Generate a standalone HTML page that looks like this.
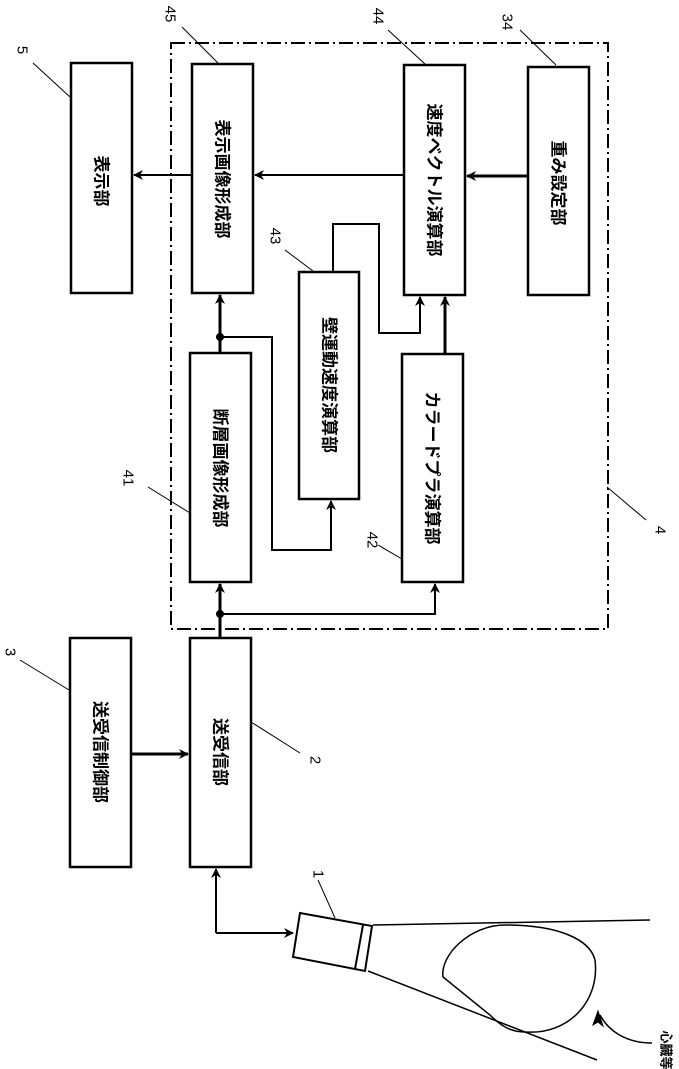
<!DOCTYPE html>
<html><head><meta charset="utf-8"><style>
html,body{margin:0;padding:0;background:#fff}
svg{display:block}
text{font-family:"Liberation Sans","Noto Sans CJK JP",sans-serif;fill:#000}
</style></head><body>
<svg width="679" height="1069" viewBox="0 0 679 1069" xmlns="http://www.w3.org/2000/svg">
<defs>
<marker id="a" markerWidth="10" markerHeight="10" refX="9" refY="5" orient="auto" markerUnits="userSpaceOnUse">
<path d="M0,0 L10,5 L0,10 L3,5 z" fill="#000"/></marker>
</defs>
<g fill="none" stroke="#000">
<rect x="171" y="43" width="437" height="586" stroke-width="2" stroke-dasharray="14,4,2,4"/>
<g stroke-width="2.5">
<rect x="71" y="63" width="61" height="230"/>
<rect x="192" y="64" width="61" height="229"/>
<rect x="404" y="65" width="61" height="230"/>
<rect x="528" y="67" width="61" height="228"/>
<rect x="299" y="272" width="60" height="227"/>
<rect x="190" y="353" width="61" height="229"/>
<rect x="402" y="354" width="61" height="228"/>
<rect x="70" y="638" width="61" height="229"/>
<rect x="190" y="638" width="61" height="229"/>
</g>
<g stroke-width="2">
<line x1="192" y1="175" x2="134" y2="175" marker-end="url(#a)"/>
<line x1="404" y1="175" x2="255" y2="175" marker-end="url(#a)"/>
<line x1="528" y1="176" x2="467" y2="176" stroke-width="3" marker-end="url(#a)"/>
<line x1="220" y1="353" x2="220" y2="295" stroke-width="3" marker-end="url(#a)"/>
<polyline points="220,337 272,337 272,550 331,550 331,501" marker-end="url(#a)"/>
<polyline points="333,272 333,224 379,224 379,333 420,333 420,297" marker-end="url(#a)"/>
<line x1="445" y1="354" x2="445" y2="297" stroke-width="3" marker-end="url(#a)"/>
<line x1="220" y1="638" x2="220" y2="584" stroke-width="3" marker-end="url(#a)"/>
<polyline points="220,614 435,614 435,584" marker-end="url(#a)"/>
<line x1="131" y1="754" x2="188" y2="754" stroke-width="3" marker-end="url(#a)"/>
<polyline points="216,933 216,869" marker-end="url(#a)"/>
<polyline points="216,933 293,933" marker-end="url(#a)"/>
</g>
<g stroke-width="1">
<line x1="33" y1="63" x2="70" y2="97"/>
<line x1="182" y1="27" x2="218" y2="63"/>
<line x1="388" y1="30" x2="425" y2="64"/>
<line x1="520" y1="30" x2="556" y2="65"/>
<line x1="285" y1="250" x2="313" y2="271"/>
<line x1="148" y1="487" x2="190" y2="513"/>
<line x1="378" y1="545" x2="402" y2="559"/>
<line x1="607" y1="487" x2="646" y2="520"/>
<line x1="20" y1="660" x2="69" y2="690"/>
<line x1="251" y1="722" x2="300" y2="753"/>
<line x1="318" y1="880" x2="335" y2="918"/>
</g>
<g stroke-width="2">
<polygon points="300,913 372,926 365,971 293,957"/>
<line x1="363" y1="925" x2="355" y2="969"/>
</g>
<g stroke-width="1.5">
<line x1="373" y1="925" x2="650" y2="920"/>
<line x1="368" y1="971" x2="597" y2="1060"/>
<path d="M443,977 C440,955 470,925 505,925 C560,925 590,940 595,960 C600,1000 570,1035 525,1032 C510,1032 500,1025 490,1015 Z"/>
<path d="M652,1043 C625,1043 608,1030 600,1015" />
</g>
<path d="M598,1011 l-5,14 l5,-3 l5,4 z" fill="#000"/>
</g>
<circle cx="220" cy="337" r="4"/>
<circle cx="220" cy="614" r="4"/>
<g font-size="17" font-weight="bold" text-anchor="middle" dominant-baseline="central">
<text transform="translate(101,181) rotate(90)">表示部</text>
<text transform="translate(222,179) rotate(90)">表示画像形成部</text>
<text transform="translate(434,180) rotate(90)">速度ベクトル演算部</text>
<text transform="translate(558,183) rotate(90)">重み設定部</text>
<text transform="translate(329,385) rotate(90)">壁運動速度演算部</text>
<text transform="translate(220,468) rotate(90)">断層画像形成部</text>
<text transform="translate(432,468) rotate(90)">カラードプラ演算部</text>
<text transform="translate(100,752) rotate(90)">送受信制御部</text>
<text transform="translate(220,752) rotate(90)">送受信部</text>
</g>
<g font-size="15" text-anchor="middle" dominant-baseline="central">
<text transform="translate(22,50) rotate(90)">5</text>
<text transform="translate(170,14) rotate(90)">45</text>
<text transform="translate(378,16) rotate(90)">44</text>
<text transform="translate(507,22) rotate(90)">34</text>
<text transform="translate(275,236) rotate(90)">43</text>
<text transform="translate(128,478) rotate(90)">41</text>
<text transform="translate(372,540) rotate(90)">42</text>
<text transform="translate(660,530) rotate(90)">4</text>
<text transform="translate(10,652) rotate(90)">3</text>
<text transform="translate(315,760) rotate(90)">2</text>
<text transform="translate(318,874) rotate(90)">1</text>
<text font-size="13" font-weight="bold" transform="translate(666,1050) rotate(90)">心臓等</text>
</g>
</svg>
</body></html>
